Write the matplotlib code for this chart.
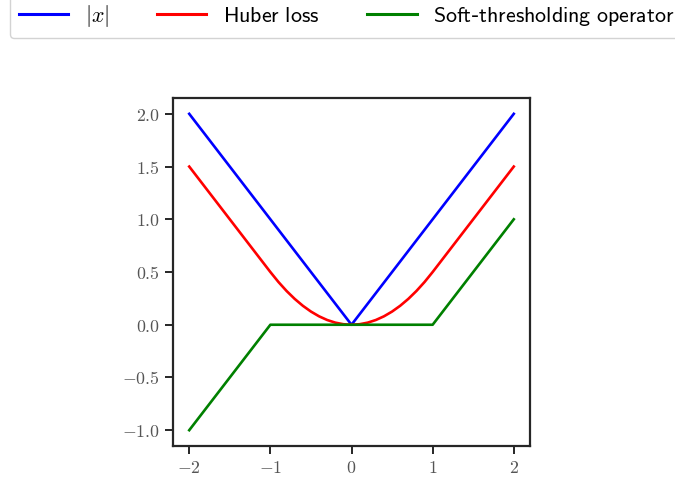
#! /usr/bin/env python3

'''
|x|, Huber loss and soft-thresholding operator
'''

import matplotlib
matplotlib.use('Agg')
import matplotlib.pyplot as plt

plt.rcParams['mathtext.fontset'] = 'cm'

abs_x = [-2.0, 0.0, 2.0]
abs_y = [2.0, 0.0, 2.0]

huber_x = [-2.0, -1.5, -1.0, -0.9, -0.8, -0.7, -0.6, -0.5, -0.4, -0.3,
           -0.2, -0.1, 0.0, 0.1, 0.2, 0.3, 0.4, 0.5, 0.6, 0.7, 0.8, 0.9,
           1.0, 1.5, 2.0]
huber_y = [1.5, 1.0, 0.5, 0.405, 0.32, 0.245, 0.18, 0.125, 0.08, 0.045,
           0.02, 0.005, 0.0, 0.005, 0.02, 0.045, 0.08, 0.125, 0.18, 0.245,
           0.32, 0.405, 0.5, 1.0, 1.5]

soft_x = [-2.0, -1.0, 1.0, 2.0]
soft_y = [-1.0, 0.0, 0.0, 1.0]

x_ticks = [-2, -1, 0, 1, 2]
y_ticks = [-1.0, -0.5, 0.0, 0.5, 1.0, 1.5, 2.0]

labels = [r'$|x|$', r'$\mathsf{Huber\ loss}$',
          r'$\mathsf{Soft}$-$\mathsf{thresholding\ operator}$']


def main():
    fig = plt.figure(figsize=(6.75, 4.8), dpi=100)
    ax = fig.add_axes([0.2563, 0.0708, 0.5289, 0.725])
    ax.plot(abs_x, abs_y, color='blue', lw=1.9, label=labels[0])
    ax.plot(huber_x, huber_y, color='red', lw=1.9, label=labels[1])
    ax.plot(soft_x, soft_y, color='green', lw=1.9, label=labels[2])

    ax.set_xticks(x_ticks)
    ax.set_xticklabels([r'$%d$' % t if t >= 0 else r'$-%d$' % -t
                        for t in x_ticks])
    ax.set_yticks(y_ticks)
    ax.set_yticklabels([r'$%.1f$' % t if t >= 0 else r'$-%.1f$' % -t
                        for t in y_ticks])
    ax.tick_params(length=6, width=1.4, color='#262626',
                   labelcolor='#555555', labelsize=12.8)
    for s in ax.spines.values():
        s.set_color('#262626')
        s.set_linewidth(1.6)

    leg = fig.legend(loc='lower left', bbox_to_anchor=(0.0148, 0.921),
                     borderaxespad=0, ncol=3, fontsize=15.8,
                     handlelength=2.25, handletextpad=0.75,
                     columnspacing=2.2, frameon=True, fancybox=True,
                     edgecolor='#c8c8c8')
    for h in leg.get_lines():
        h.set_linewidth(2.2)
    fig.savefig('out.png', dpi=100)


if __name__ == '__main__':
    main()
